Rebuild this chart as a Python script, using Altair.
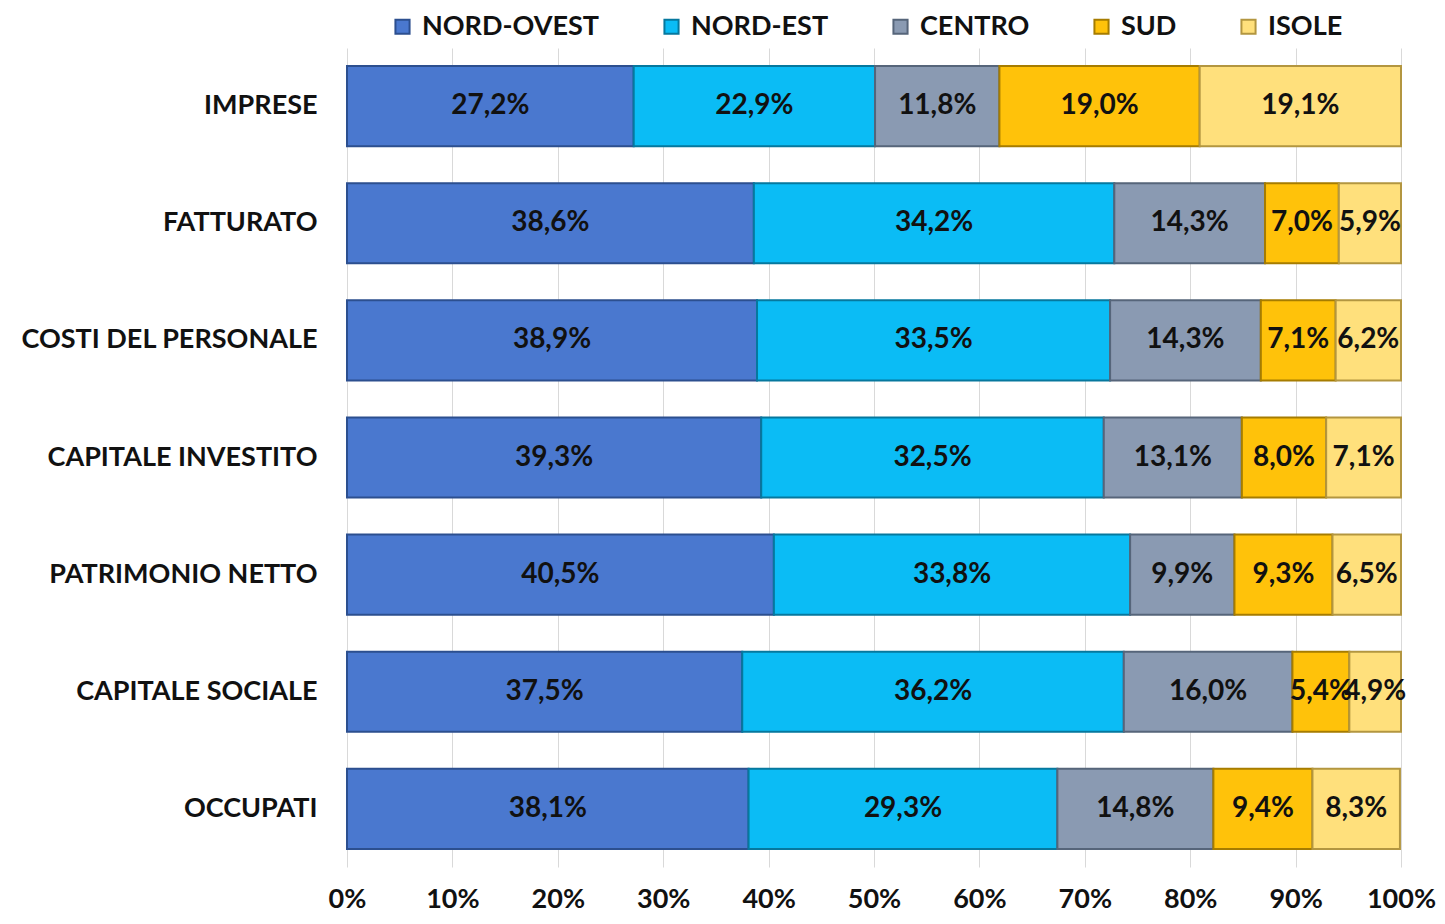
import altair as alt
import pandas as pd

categories = ["IMPRESE", "FATTURATO", "COSTI DEL PERSONALE", "CAPITALE INVESTITO",
              "PATRIMONIO NETTO", "CAPITALE SOCIALE", "OCCUPATI"]
regions = ["NORD-OVEST", "NORD-EST", "CENTRO", "SUD", "ISOLE"]

nord_ovest = [27.2, 38.6, 38.9, 39.3, 40.5, 37.5, 38.1]
nord_est = [22.9, 34.2, 33.5, 32.5, 33.8, 36.2, 29.3]
centro = [11.8, 14.3, 14.3, 13.1, 9.9, 16.0, 14.8]
sud = [19.0, 7.0, 7.1, 8.0, 9.3, 5.4, 9.4]
isole = [19.1, 5.9, 6.2, 7.1, 6.5, 4.9, 8.3]

fills = ["#4a78cf", "#0bbcf5", "#8a9ab2", "#ffc20a", "#ffe07c"]
strokes = ["#2c4f8f", "#06789e", "#56657a", "#a67c00", "#b39640"]

series = [nord_ovest, nord_est, centro, sud, isole]
rows = []
for ri, (reg, vals) in enumerate(zip(regions, series)):
    for c, v in zip(categories, vals):
        rows.append({"cat": c, "region": reg, "order": ri, "value": v,
                     "label": f"{v:.1f}%".replace(".", ",")})
df = pd.DataFrame(rows)

FONT = "Lato"

base = alt.Chart(df).transform_stack(
    stack="value", groupby=["cat"], as_=["x0", "x1"],
    sort=[alt.SortField("order", order="ascending")]
).transform_calculate(mid="(datum.x0 + datum.x1) / 2")

y_enc = alt.Y("cat:N", sort=categories, title=None,
              scale=alt.Scale(paddingInner=0.316, paddingOuter=0.154),
              axis=alt.Axis(domain=False, ticks=False, labelFont=FONT, labelFontWeight="bold",
                            labelFontSize=27, labelColor="#111", labelPadding=30,
                            labelLimit=400))

bars = base.mark_bar(strokeWidth=2).encode(
    x=alt.X("x0:Q", title=None, scale=alt.Scale(domain=[0, 100], nice=False),
            axis=alt.Axis(values=list(range(0, 101, 10)), labelExpr="datum.value + '%'",
                          domain=False, ticks=False, grid=True, gridColor="#d9d9d9",
                          labelFont=FONT, labelFontWeight="bold", labelFontSize=27,
                          labelColor="#111", labelPadding=19, labelFlush=False)),
    x2="x1:Q",
    y=y_enc,
    color=alt.Color("region:N", sort=regions,
                    scale=alt.Scale(domain=regions, range=fills),
                    legend=alt.Legend(title=None, orient="none", direction="horizontal",
                                      legendX=42, legendY=-35, symbolType="square",
                                      symbolSize=200, symbolStrokeWidth=2,
                                      labelFont=FONT, labelFontWeight="bold",
                                      labelFontSize=27, labelColor="#111", labelLimit=400,
                                      columnPadding=58, labelOffset=6)),
    stroke=alt.Stroke("region:N", scale=alt.Scale(domain=regions, range=strokes), legend=None),
)

texts = base.mark_text(font=FONT, fontWeight="bold", fontSize=28, color="#111",
                       align="center", baseline="middle").encode(
    x="mid:Q",
    y=alt.Y("cat:N", sort=categories),
    text="label:N",
)

chart = (bars + texts).properties(
    width=1054, height=819,
    autosize=alt.AutoSizeParams(type="none"),
    padding={"left": 339, "top": 40, "right": 36, "bottom": 49},
).configure_view(stroke=None)

chart.save("out.html", embed_options={"renderer": "svg", "actions": False})
